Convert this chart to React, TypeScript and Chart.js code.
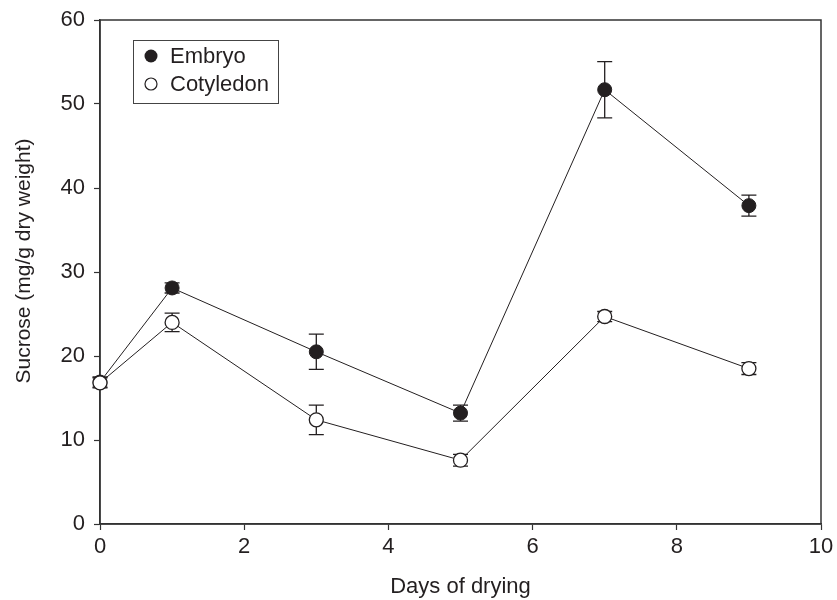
import React, { useEffect, useRef } from "react";
import { Chart, registerables } from "chart.js";

Chart.register(...registerables);

const days = [0, 1, 3, 5, 7, 9];
const embryo = [16.9, 28.1, 20.5, 13.2, 51.7, 37.9];
const embryoErr = [0.6, 0.6, 2.1, 0.95, 3.35, 1.25];
const cotyledon = [16.8, 24.0, 12.4, 7.6, 24.7, 18.5];
const cotyledonErr = [0.6, 1.1, 1.75, 0.7, 0.6, 0.7];
const xTicks = [0, 2, 4, 6, 8, 10];
const yTicks = [0, 10, 20, 30, 40, 50, 60];
const seriesNames = ["Embryo", "Cotyledon"];
const xTitle = "Days of drying";
const yTitle = "Sucrose (mg/g dry weight)";

const FONT = "'Liberation Sans', Arial, sans-serif";
const INK = "#231f20";

const errorBarPlugin = {
  id: "errorBars",
  beforeDatasetsDraw(chart: any) {
    const ctx = chart.ctx;
    const xs = chart.scales.x;
    const ys = chart.scales.y;
    const errs = [embryoErr, cotyledonErr];
    ctx.save();
    ctx.strokeStyle = INK;
    ctx.lineWidth = 1.3;
    chart.data.datasets.forEach((ds: any, di: number) => {
      ds.data.forEach((p: any, i: number) => {
        const x = xs.getPixelForValue(p.x);
        const yTop = ys.getPixelForValue(p.y + errs[di][i]);
        const yBot = ys.getPixelForValue(p.y - errs[di][i]);
        const cap = 7.5;
        ctx.beginPath();
        ctx.moveTo(x, yTop);
        ctx.lineTo(x, yBot);
        ctx.moveTo(x - cap, yTop);
        ctx.lineTo(x + cap, yTop);
        ctx.moveTo(x - cap, yBot);
        ctx.lineTo(x + cap, yBot);
        ctx.stroke();
      });
    });
    ctx.restore();
  },
};

const framePlugin = {
  id: "frameLegend",
  beforeDatasetsDraw(chart: any) {
    const ctx = chart.ctx;
    const a = chart.chartArea;
    ctx.save();
    ctx.strokeStyle = "#333";
    ctx.lineWidth = 1.5;
    ctx.strokeRect(a.left, a.top, a.right - a.left, a.bottom - a.top);
    ctx.restore();
  },
  afterDraw(chart: any) {
    const ctx = chart.ctx;
    const a = chart.chartArea;
    ctx.save();
    // y-axis title
    ctx.save();
    ctx.translate(24, (a.top + a.bottom) / 2 - 11);
    ctx.rotate(-Math.PI / 2);
    ctx.font = `21px ${FONT}`;
    ctx.fillStyle = INK;
    ctx.textAlign = "center";
    ctx.textBaseline = "middle";
    ctx.fillText(yTitle, 0, 0);
    ctx.restore();
    // legend
    const lx = a.left + 33;
    const ly = a.top + 20;
    const lw = 145;
    const lh = 63;
    ctx.lineWidth = 1;
    ctx.strokeStyle = "#444";
    ctx.strokeRect(lx + 0.5, ly + 0.5, lw, lh);
    ctx.font = `22px ${FONT}`;
    ctx.textBaseline = "middle";
    ctx.fillStyle = INK;
    const rows = [ly + 16, ly + 44];
    seriesNames.forEach((name, i) => {
      ctx.beginPath();
      ctx.arc(lx + 18, rows[i], i === 0 ? 6.5 : 6, 0, Math.PI * 2);
      if (i === 0) {
        ctx.fillStyle = INK;
        ctx.fill();
      } else {
        ctx.fillStyle = "#fff";
        ctx.fill();
        ctx.lineWidth = 1.2;
        ctx.strokeStyle = INK;
        ctx.stroke();
      }
      ctx.fillStyle = INK;
      ctx.fillText(name, lx + 37, rows[i] + 1);
    });
    ctx.restore();
  },
};

export default function App() {
  const ref = useRef<HTMLCanvasElement>(null);
  useEffect(() => {
    if (!ref.current) return;
    const chart = new Chart(ref.current, {
      type: "line",
      data: {
        datasets: [
          {
            label: seriesNames[0],
            data: days.map((d, i) => ({ x: d, y: embryo[i] })),
            borderColor: INK,
            borderWidth: 1,
            pointRadius: 7,
            pointBackgroundColor: INK,
            pointBorderColor: INK,
            pointBorderWidth: 1,
            clip: false,
            order: 1,
          },
          {
            label: seriesNames[1],
            data: days.map((d, i) => ({ x: d, y: cotyledon[i] })),
            borderColor: INK,
            borderWidth: 1,
            pointRadius: 7,
            pointBackgroundColor: "#fff",
            pointBorderColor: INK,
            pointBorderWidth: 1.3,
            clip: false,
            order: 0,
          },
        ],
      },
      options: {
        responsive: false,
        animation: false,
        layout: { padding: { top: 20, right: 16, left: 0, bottom: 0 } },
        plugins: { legend: { display: false }, tooltip: { enabled: false } },
        scales: {
          x: {
            type: "linear",
            min: 0,
            max: 10,
            afterBuildTicks: (s: any) => {
              s.ticks = xTicks.map((v) => ({ value: v }));
            },
            afterFit: (s: any) => {
              s.height = 76;
              s.paddingLeft = 0;
              s.paddingRight = 0;
            },
            grid: {
              drawOnChartArea: false,
              drawTicks: true,
              tickLength: 6,
              color: "#333",
              tickWidth: 1.2,
            },
            border: { color: "#333", width: 1.5 },
            ticks: { color: INK, font: { size: 22, family: FONT }, padding: 4, maxRotation: 0 },
            title: {
              display: true,
              text: xTitle,
              color: INK,
              font: { size: 22, family: FONT },
              padding: { top: 0, bottom: 0 },
            },
          },
          y: {
            type: "linear",
            min: 0,
            max: 60,
            afterBuildTicks: (s: any) => {
              s.ticks = yTicks.map((v) => ({ value: v }));
            },
            afterFit: (s: any) => {
              s.width = 100;
              s.paddingTop = 0;
              s.paddingBottom = 0;
            },
            grid: {
              drawOnChartArea: false,
              drawTicks: true,
              tickLength: 6,
              color: "#333",
              tickWidth: 1.2,
            },
            border: { color: "#333", width: 1.5 },
            ticks: { color: INK, font: { size: 22, family: FONT }, padding: 9 },
          },
        },
      },
      plugins: [errorBarPlugin, framePlugin],
    });
    return () => chart.destroy();
  }, []);
  return (
    <div style={{ position: "fixed", left: 0, top: 0, width: 837, height: 600, background: "#fff" }}>
      <canvas ref={ref} width={837} height={600} style={{ width: 837, height: 600 }} />
    </div>
  );
}
